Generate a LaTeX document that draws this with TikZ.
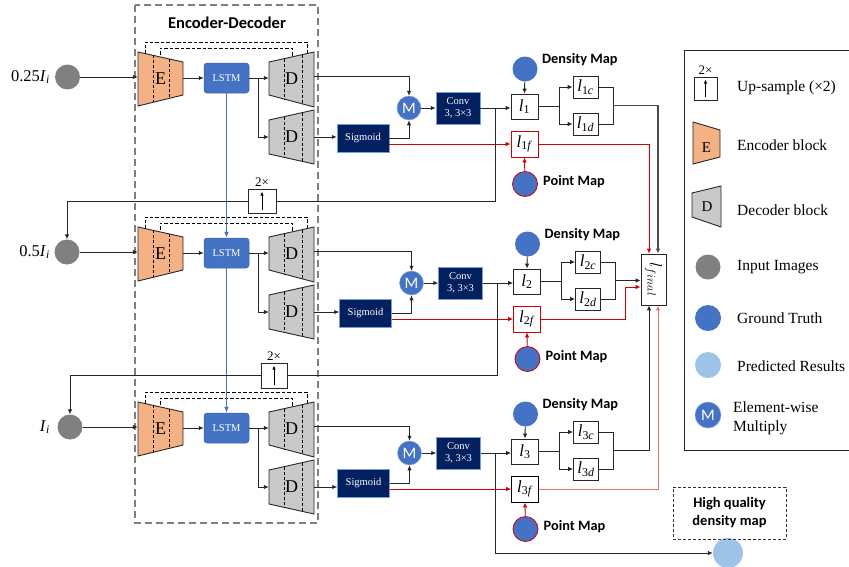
\documentclass[tikz,border=0pt]{standalone}
\usepackage{fontspec}
\setmainfont{Liberation Serif}
\newfontfamily\calib{Carlito}
\usetikzlibrary{arrows.meta,calc}
\definecolor{orangeE}{HTML}{F4B183}
\definecolor{grayD}{HTML}{C9C9C9}
\definecolor{grayIn}{HTML}{808080}
\definecolor{blueGT}{HTML}{4472C4}
\definecolor{navy}{HTML}{002060}
\definecolor{lightB}{HTML}{9DC3E6}
\definecolor{redL}{HTML}{D00000}
\definecolor{pinkL}{HTML}{E87272}
\definecolor{lineG}{HTML}{262626}
\newcommand\lab[1]{\textit{l}\textsubscript{#1}}
\begin{document}
\begin{tikzpicture}[x=1pt,y=-1pt,
  ln/.style={draw=lineG, line width=0.9pt},
  arr/.style={ln, -{Latex[length=5pt,width=4.5pt]}},
  redarr/.style={draw=redL, line width=0.9pt, -{Latex[length=5pt,width=4.5pt]}},
  pinkarr/.style={draw=pinkL, line width=1pt, -{Latex[length=5pt,width=4.5pt]}},
  bluearr/.style={draw=blueGT, line width=1.4pt, -{Latex[length=6pt,width=5pt]}},
  trap/.style={draw=black!85, line width=0.9pt},
  ddash/.style={draw=black, line width=0.7pt, dash pattern=on 3pt off 2pt},
  skipln/.style={draw=black, line width=0.7pt, dash pattern=on 3.5pt off 2pt},
  lbl/.style={inner sep=0, minimum width=45, minimum height=33, font=\fontsize{18}{18}\selectfont},
  lstm/.style={rounded corners=3pt, fill=blueGT, draw=blueGT!85!black, line width=0.5pt, minimum width=45, minimum height=30, inner sep=0, text=white, font=\fontsize{10.5}{12}\selectfont},
  navybox/.style={fill=navy, draw=blueGT!70, line width=0.5pt, inner sep=0, text=white, font=\fontsize{10.5}{12.5}\selectfont, align=center},
  mcirc/.style={circle, fill=blueGT, draw=blueGT!60, line width=0.5pt, minimum size=24, inner sep=0, text=white, font=\calib\fontsize{16}{16}\selectfont},
  gt/.style={circle, fill=blueGT, minimum size=25, inner sep=0},
  inpt/.style={circle, fill=grayIn, minimum size=25, inner sep=0},
  lbox/.style={draw=black!85, line width=0.8pt, fill=white, inner sep=0, font=\fontsize{17}{17}\selectfont},
  maplbl/.style={anchor=west, inner sep=0, font=\calib\bfseries\fontsize{14.3}{14.3}\selectfont},
  upbox/.style={draw=black!85, line width=0.8pt, inner sep=0, minimum width=27, minimum height=24},
  uparr/.style={line width=1pt, -{Latex[length=4pt,width=3.5pt]}},
  twox/.style={font=\fontsize{13}{13}\selectfont, inner sep=0, anchor=south},
  lgtext/.style={anchor=west, inner sep=0, font=\fontsize{15.5}{19}\selectfont, align=left},
  inlbl/.style={anchor=east, inner sep=0, font=\fontsize{16.5}{16.5}\selectfont},
]
\useasboundingbox (0,0) rectangle (849,566);
\clip (0,0) rectangle (849,566);

% Encoder-Decoder frame
\draw[draw=grayIn, line width=1.5pt, dash pattern=on 7pt off 4pt] (135,5) rectangle (318,523);
\node[font=\calib\bfseries\fontsize{16.5}{16.5}\selectfont] (title) at (227,23) {Encoder-Decoder};

% inputs
\node[inpt] (inp1) at (67.5,77) {};
\node[inpt] (inp2) at (67,252) {};
\node[inpt] (inp3) at (70,427) {};
\node[inlbl] at (50,77) {0.25\textit{I}\textsubscript{\textit{i}}};
\node[inlbl] at (50,252) {0.5\textit{I}\textsubscript{\textit{i}}};
\node[inlbl] at (50,427) {\textit{I}\textsubscript{\textit{i}}};

\foreach \r/\dL/\dR/\xR/\lfc in {1/0/0/0/redL, 2/175/175/2.5/redL, 3/350/345/0.5/black}{
  % encoder
  \draw[trap, fill=orangeE] (138,52+\dL) -- (183,62+\dL) -- (183,95+\dL) -- (138,106+\dL) -- cycle;
  \draw[ddash] (153,55.3+\dL) -- (153,102.3+\dL) (169,58.9+\dL) -- (169,98.4+\dL);
  \node[lbl, minimum height=54] (E\r) at (160.5,79+\dL) {E};
  % decoders
  \draw[trap, fill=grayD] (269,62+\dL) -- (314,52+\dL) -- (314,107+\dL) -- (269,95+\dL) -- cycle;
  \draw[ddash] (284,58.7+\dL) -- (284,99+\dL) (302,54.7+\dL) -- (302,103.8+\dL);
  \node[lbl] (Da\r) at (291.5,79+\dL) {D};
  \draw[trap, fill=grayD] (269,120+\dL) -- (314,110+\dL) -- (314,164+\dL) -- (269,154+\dL) -- cycle;
  \draw[ddash] (284,116.7+\dL) -- (284,157.3+\dL) (302,112.7+\dL) -- (302,161.3+\dL);
  \node[lbl] (Db\r) at (291.5,137+\dL) {D};
  % skip connections
  \draw[skipln] (145,53.6+\dL) -- (145,42+\dL) -- (307,42+\dL) -- (307,53.6+\dL);
  \draw[skipln] (160,54.9+\dL) -- (160,48+\dL) -- (292,48+\dL) -- (292,56.9+\dL);
  % LSTM
  \node[lstm] (L\r) at (226.5,78+\dL) {LSTM};
  % right part
  \node[mcirc] (M\r) at (409+\xR,108+\dR) {M};
  \node[navybox, minimum width=44, minimum height=32] (Conv\r) at (458+\xR,108+\dR) {Conv\\3, 3×3};
  \node[navybox, minimum width=52, minimum height=28] (Sig\r) at (363+\xR,138+\dR) {Sigmoid};
  \node[lbox, minimum width=27, minimum height=25] (l\r) at (524.5+\xR,106.5+\dR) {\lab{\r}};
  \node[lbox, minimum width=25, minimum height=22] (lc\r) at (585.5+\xR,87+\dR) {\lab{\r\textit{c}}};
  \node[lbox, minimum width=25, minimum height=22] (ld\r) at (585.5+\xR,124+\dR) {\lab{\r\textit{d}}};
  \node[lbox, draw=\lfc, minimum width=27, minimum height=26] (lf\r) at (524.5+\xR,144+\dR) {\lab{\r\textit{f}}};
  \node[gt] (dm\r) at (525+\xR,69+\dR) {};
  \node[gt, draw=redL, line width=0.8pt] (pm\r) at (525+\xR,184+\dR) {};
  \node[maplbl] at (542+\xR,60+\dR) {Density Map};
  \node[maplbl] at (543+\xR,182+\dR) {Point Map};
  % connectors
  \draw[arr] (inp\r) -- (inp\r -| E\r.west);
  \draw[arr] (E\r.east |- L\r.west) -- (L\r.west);
  \draw[arr] (L\r.east) -- (L\r.east -| Da\r.west);
  \draw[arr] ($(L\r.east)+(9,0)$) |- (Db\r.west);
  \draw[arr] ($(Da\r.east)+(0,-2.5)$) -| (M\r.north);
  \draw[arr] (Db\r.east) -- (Db\r.east -| Sig\r.west);
  \draw[arr] (Sig\r.east) -| (M\r.south);
  \draw[arr] (M\r.east) -- (Conv\r.west);
  \draw[arr] (Conv\r.east) -- (Conv\r.east -| l\r.west);
  \coordinate (br\r) at ($(Conv\r.east)+(15,0)$);
  \draw[arr] (dm\r) -- (l\r.north);
  \draw[ln] (l\r.east) -- ++(21,0) coordinate (b\r);
  \draw[arr] (b\r) |- (lc\r.west);
  \draw[arr] (b\r) |- (ld\r.west);
  \draw[ln] (lc\r.east) -- ++(15,0) coordinate (jt\r) |- (ld\r.east);
  \coordinate (j\r) at ($(jt\r)!0.5!(jt\r |- ld\r.east)$);
  \draw[redarr] (Sig\r.east |- lf\r.west) -- (lf\r.west);
  \draw[redarr] (pm\r) -- (lf\r.south);
}

% LSTM chain
\draw[bluearr] (L1.south) -- (L2.north);
\draw[bluearr] (L2.south) -- (L3.north);

% up-sampling feedback
\node[upbox, minimum width=28] (up1) at (262,201) {};
\draw[uparr] ($(up1.south)+(0,-3)$) -- ($(up1.north)+(0,3)$);
\node[twox] at ($(up1.north)+(0,-2)$) {2×};
\draw[ln] (br1) |- (up1.east);
\draw[arr] (up1.west) -| (inp2.north);

\node[upbox, minimum width=26, minimum height=25] (up2) at (274,375.5) {};
\draw[uparr] ($(up2.south)+(0,-3)$) -- ($(up2.north)+(0,3)$);
\node[twox] at ($(up2.north)+(0,-2)$) {2×};
\draw[ln] (br2) |- (up2.east);
\draw[arr] (up2.west) -| (inp3.north);

% final loss
\node[lbox, minimum width=25, minimum height=51] (lfin) at (653.5,279.5) {};
\node[rotate=-90, font=\fontsize{17}{17}\selectfont] at (lfin) {$l_{final}$};
\draw[arr, draw=black!70, line width=1.1pt] (j1) -| ($(lfin.north)+(4.5,0)$);
\draw[redarr] (lf1.east) -| ($(lfin.north)+(-4.5,0)$);
\draw[arr] (j2) -- (j2 -| lfin.west);
\draw[redarr] (lf2.east) -| ($(lfin.west)+(-15,7.5)$) -- ($(lfin.west)+(0,7.5)$);
\draw[arr] (j3) -| ($(lfin.south)+(-4.5,0)$);
\draw[pinkarr] (lf3.east) -| ($(lfin.south)+(4.5,0)$);

% output
\node[circle, fill=lightB, minimum size=30, inner sep=0] (pred) at (728,553) {};
\draw[arr] (br3) |- (pred.west);
\node[draw=black!80, line width=0.8pt, dash pattern=on 3pt off 2pt, minimum width=113, minimum height=52, align=center, inner sep=0, font=\calib\bfseries\fontsize{14.5}{18}\selectfont] (hq) at (729.5,513) {High quality\\density map};

% legend
\draw[line width=0.8pt, draw=black!85] (684,50) rectangle (880,450);
\node[upbox, minimum width=23, minimum height=23] (upL) at (705.5,88.5) {};
\draw[uparr] ($(upL.south)+(0,-3)$) -- ($(upL.north)+(0,3)$);
\node[twox] at ($(upL.north)+(0,-2)$) {2×};
\node[lgtext] at (737,88) {Up-sample (×2)};
\draw[trap, fill=orangeE] (693,122) -- (720,130) -- (720,157) -- (693,164) -- cycle;
\node[font=\fontsize{15}{15}\selectfont] at (706.5,148) {E};
\node[lgtext] at (737,145) {Encoder block};
\draw[trap, fill=grayD] (692,193) -- (721,186) -- (721,227) -- (692,217) -- cycle;
\node[font=\fontsize{15}{15}\selectfont] at (707,207) {D};
\node[lgtext] at (737,210) {Decoder block};
\node[inpt] (lgIn) at (708,267) {};
\node[lgtext] at (737,267) {Input Images};
\node[gt, minimum size=26] (lgGT) at (708,318) {};
\node[lgtext] at (737,318) {Ground Truth};
\node[circle, fill=lightB, minimum size=26, inner sep=0] (lgPR) at (708,365) {};
\node[lgtext] at (737,366) {Predicted Results};
\node[mcirc, minimum size=26] (lgM) at (708,415) {M};
\node[lgtext] at (733,418) {Element-wise\\Multiply};
\end{tikzpicture}
\end{document}
